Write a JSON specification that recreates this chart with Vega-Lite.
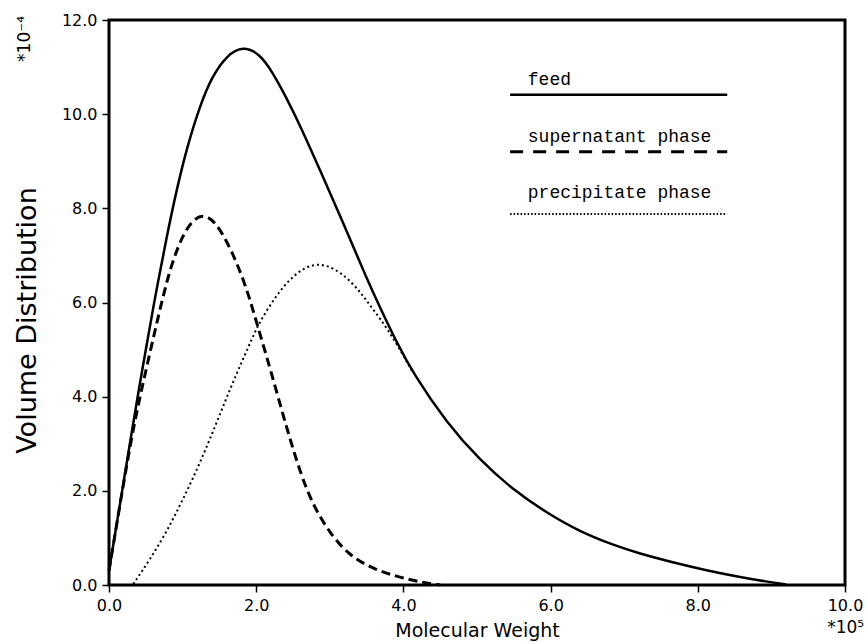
{
  "$schema": "https://vega.github.io/schema/vega-lite/v6.json",
  "width": 736,
  "height": 565,
  "autosize": {"type": "none"},
  "padding": {"left": 109, "top": 20, "right": 22, "bottom": 57},
  "background": "white",
  "config": {
    "view": {"stroke": "black", "strokeWidth": 3},
    "axis": {
      "grid": false,
      "domain": false,
      "tickColor": "black",
      "tickSize": 7,
      "tickWidth": 1.5,
      "labelFont": "DejaVu Sans",
      "labelFontSize": 16,
      "labelColor": "black",
      "labelPadding": 5,
      "labelFlush": false,
      "titleFont": "DejaVu Sans",
      "titleFontSize": 19,
      "titleFontWeight": "normal",
      "titleColor": "black"
    }
  },
  "datasets": {
    "curves": [
      {"series": "feed", "mw": 0.0, "v": 0.3},
      {"series": "feed", "mw": 0.1, "v": 1.25},
      {"series": "feed", "mw": 0.2, "v": 2.2},
      {"series": "feed", "mw": 0.33, "v": 3.45},
      {"series": "feed", "mw": 0.46, "v": 4.65},
      {"series": "feed", "mw": 0.6, "v": 5.9},
      {"series": "feed", "mw": 0.79, "v": 7.45},
      {"series": "feed", "mw": 0.92, "v": 8.4},
      {"series": "feed", "mw": 1.06, "v": 9.3},
      {"series": "feed", "mw": 1.24, "v": 10.2},
      {"series": "feed", "mw": 1.4, "v": 10.8},
      {"series": "feed", "mw": 1.6, "v": 11.25},
      {"series": "feed", "mw": 1.82, "v": 11.45},
      {"series": "feed", "mw": 2.05, "v": 11.28},
      {"series": "feed", "mw": 2.23, "v": 10.87},
      {"series": "feed", "mw": 2.4, "v": 10.38},
      {"series": "feed", "mw": 2.6, "v": 9.75},
      {"series": "feed", "mw": 2.87, "v": 8.8},
      {"series": "feed", "mw": 3.18, "v": 7.7},
      {"series": "feed", "mw": 3.32, "v": 7.18},
      {"series": "feed", "mw": 3.5, "v": 6.52},
      {"series": "feed", "mw": 3.68, "v": 5.9},
      {"series": "feed", "mw": 3.9, "v": 5.18},
      {"series": "feed", "mw": 4.13, "v": 4.5},
      {"series": "feed", "mw": 4.59, "v": 3.44},
      {"series": "feed", "mw": 5.04, "v": 2.65},
      {"series": "feed", "mw": 5.49, "v": 2.02},
      {"series": "feed", "mw": 5.95, "v": 1.53},
      {"series": "feed", "mw": 6.4, "v": 1.13},
      {"series": "feed", "mw": 6.85, "v": 0.85},
      {"series": "feed", "mw": 7.2, "v": 0.67},
      {"series": "feed", "mw": 7.66, "v": 0.48},
      {"series": "feed", "mw": 8.12, "v": 0.31},
      {"series": "feed", "mw": 8.57, "v": 0.17},
      {"series": "feed", "mw": 8.94, "v": 0.07},
      {"series": "feed", "mw": 9.2, "v": 0.01},
      {"series": "super", "mw": 0.0, "v": 0.3},
      {"series": "super", "mw": 0.15, "v": 1.72},
      {"series": "super", "mw": 0.33, "v": 3.36},
      {"series": "super", "mw": 0.51, "v": 4.62},
      {"series": "super", "mw": 0.72, "v": 6.05},
      {"series": "super", "mw": 0.85, "v": 6.82},
      {"series": "super", "mw": 1.0, "v": 7.43},
      {"series": "super", "mw": 1.15, "v": 7.78},
      {"series": "super", "mw": 1.3, "v": 7.87},
      {"series": "super", "mw": 1.45, "v": 7.7},
      {"series": "super", "mw": 1.6, "v": 7.3},
      {"series": "super", "mw": 1.75, "v": 6.8},
      {"series": "super", "mw": 1.9, "v": 6.15},
      {"series": "super", "mw": 2.0, "v": 5.6},
      {"series": "super", "mw": 2.19, "v": 4.6},
      {"series": "super", "mw": 2.42, "v": 3.3},
      {"series": "super", "mw": 2.6, "v": 2.38},
      {"series": "super", "mw": 2.77, "v": 1.7},
      {"series": "super", "mw": 3.0, "v": 1.1},
      {"series": "super", "mw": 3.27, "v": 0.62},
      {"series": "super", "mw": 3.59, "v": 0.34},
      {"series": "super", "mw": 3.93, "v": 0.17},
      {"series": "super", "mw": 4.27, "v": 0.05},
      {"series": "super", "mw": 4.5, "v": 0.0},
      {"series": "precip", "mw": 0.33, "v": 0.02},
      {"series": "precip", "mw": 0.56, "v": 0.55},
      {"series": "precip", "mw": 0.79, "v": 1.15},
      {"series": "precip", "mw": 1.0, "v": 1.8},
      {"series": "precip", "mw": 1.24, "v": 2.6},
      {"series": "precip", "mw": 1.47, "v": 3.48},
      {"series": "precip", "mw": 1.68, "v": 4.3},
      {"series": "precip", "mw": 1.92, "v": 5.15},
      {"series": "precip", "mw": 2.02, "v": 5.5},
      {"series": "precip", "mw": 2.15, "v": 5.85},
      {"series": "precip", "mw": 2.3, "v": 6.2},
      {"series": "precip", "mw": 2.46, "v": 6.5},
      {"series": "precip", "mw": 2.65, "v": 6.74},
      {"series": "precip", "mw": 2.84, "v": 6.83},
      {"series": "precip", "mw": 3.05, "v": 6.74},
      {"series": "precip", "mw": 3.27, "v": 6.48},
      {"series": "precip", "mw": 3.45, "v": 6.15},
      {"series": "precip", "mw": 3.59, "v": 5.85},
      {"series": "precip", "mw": 3.78, "v": 5.45},
      {"series": "precip", "mw": 4.0, "v": 4.88},
      {"series": "precip", "mw": 4.13, "v": 4.5}
    ],
    "legendLines": [
      {"series": "feed", "mw": 5.45, "v": 10.41},
      {"series": "feed", "mw": 8.4, "v": 10.41},
      {"series": "super", "mw": 5.45, "v": 9.2},
      {"series": "super", "mw": 8.4, "v": 9.2},
      {"series": "precip", "mw": 5.45, "v": 7.88},
      {"series": "precip", "mw": 8.4, "v": 7.88}
    ],
    "legendText": [
      {"label": "feed", "mw": 5.69, "v": 10.62},
      {"label": "supernatant phase", "mw": 5.69, "v": 9.41},
      {"label": "precipitate phase", "mw": 5.69, "v": 8.22}
    ],
    "yExp": [
      {"label": "*10⁻⁴", "mw": -1.14, "v": 11.11}
    ],
    "xExp": [
      {"label": "*10⁵", "mw": 10.26, "v": -0.91}
    ]
  },
  "layer": [
    {
      "data": {"name": "curves"},
      "transform": [{"filter": "datum.series === 'feed'"}],
      "mark": {"type": "line", "color": "black", "strokeWidth": 2.5, "interpolate": "basis"},
      "encoding": {
        "x": {"field": "mw", "type": "quantitative", "scale": {"domain": [0, 10], "nice": false},
              "axis": {"values": [0, 2, 4, 6, 8, 10], "format": ".1f", "title": "Molecular Weight", "titlePadding": 8}},
        "y": {"field": "v", "type": "quantitative", "scale": {"domain": [0, 12], "nice": false},
              "axis": {"values": [0, 2, 4, 6, 8, 10, 12], "format": ".1f", "title": "Volume Distribution", "titlePadding": 20, "titleFontSize": 27, "titleY": 300}}
      }
    },
    {
      "data": {"name": "curves"},
      "transform": [{"filter": "datum.series === 'super'"}],
      "mark": {"type": "line", "color": "black", "strokeWidth": 3, "strokeDash": [9, 5], "interpolate": "basis"},
      "encoding": {
        "x": {"field": "mw", "type": "quantitative"},
        "y": {"field": "v", "type": "quantitative"}
      }
    },
    {
      "data": {"name": "curves"},
      "transform": [{"filter": "datum.series === 'precip'"}],
      "mark": {"type": "line", "color": "black", "strokeWidth": 2, "strokeDash": [2, 3], "interpolate": "basis"},
      "encoding": {
        "x": {"field": "mw", "type": "quantitative"},
        "y": {"field": "v", "type": "quantitative"}
      }
    },
    {
      "data": {"name": "legendLines"},
      "transform": [{"filter": "datum.series === 'feed'"}],
      "mark": {"type": "line", "color": "black", "strokeWidth": 2.5},
      "encoding": {
        "x": {"field": "mw", "type": "quantitative"},
        "y": {"field": "v", "type": "quantitative"}
      }
    },
    {
      "data": {"name": "legendLines"},
      "transform": [{"filter": "datum.series === 'super'"}],
      "mark": {"type": "line", "color": "black", "strokeWidth": 3, "strokeDash": [13, 10]},
      "encoding": {
        "x": {"field": "mw", "type": "quantitative"},
        "y": {"field": "v", "type": "quantitative"}
      }
    },
    {
      "data": {"name": "legendLines"},
      "transform": [{"filter": "datum.series === 'precip'"}],
      "mark": {"type": "line", "color": "black", "strokeWidth": 1.8, "strokeDash": [1.5, 2]},
      "encoding": {
        "x": {"field": "mw", "type": "quantitative"},
        "y": {"field": "v", "type": "quantitative"}
      }
    },
    {
      "data": {"name": "legendText"},
      "mark": {"type": "text", "font": "Liberation Mono", "fontSize": 18, "align": "left", "baseline": "alphabetic", "color": "black"},
      "encoding": {
        "x": {"field": "mw", "type": "quantitative"},
        "y": {"field": "v", "type": "quantitative"},
        "text": {"field": "label"}
      }
    },
    {
      "data": {"name": "yExp"},
      "mark": {"type": "text", "font": "DejaVu Sans", "fontSize": 17, "baseline": "middle", "align": "left", "angle": 270, "color": "black"},
      "encoding": {
        "x": {"field": "mw", "type": "quantitative"},
        "y": {"field": "v", "type": "quantitative"},
        "text": {"field": "label"}
      }
    },
    {
      "data": {"name": "xExp"},
      "mark": {"type": "text", "font": "DejaVu Sans", "fontSize": 17, "baseline": "middle", "align": "right", "color": "black"},
      "encoding": {
        "x": {"field": "mw", "type": "quantitative"},
        "y": {"field": "v", "type": "quantitative"},
        "text": {"field": "label"}
      }
    }
  ]
}
